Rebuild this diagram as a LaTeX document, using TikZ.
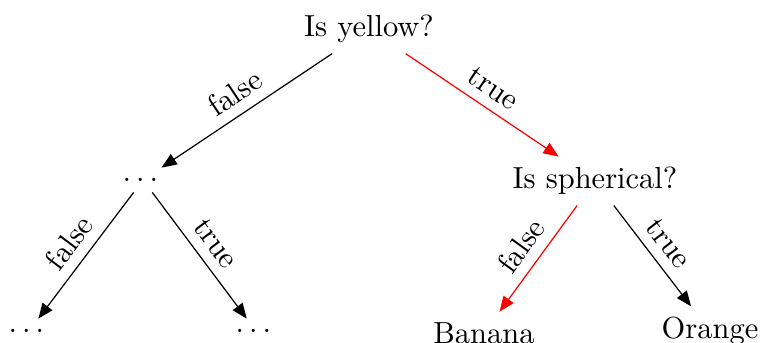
\documentclass[tikz,border=0pt]{standalone}
\usepackage{amsmath,amssymb}
\usepackage{tikz}
\usetikzlibrary{arrows.meta,positioning}

\begin{document}
\begin{tikzpicture}[x=0.328pt, y=-0.328pt,
  edge/.style={-{Triangle[length=5pt,width=4pt]}},
  lbl/.style={midway, sloped, above}]
\useasboundingbox (0,0) rectangle (763,342);
% decision nodes
\node (yellow) at (369,29) {Is yellow?};
\node (other) at (143,180) {$\dots$};
\node (round) at (595,181) {Is spherical?};
% leaves
\node (otherF) at (29,331) {$\dots$};
\node (otherT) at (256,331) {$\dots$};
\node (banana) at (484,333) {Banana};
\node (orange) at (710,331) {Orange};
% edges
\foreach \p/\c/\l/\col in {yellow/other/false/black, yellow/round/true/red,
  other/otherF/false/black, other/otherT/true/black,
  round/banana/false/red, round/orange/true/black} {
  \draw[edge, \col] (\p) -- node[lbl, text=black] {\l} (\c);
}
\end{tikzpicture}
\end{document}
